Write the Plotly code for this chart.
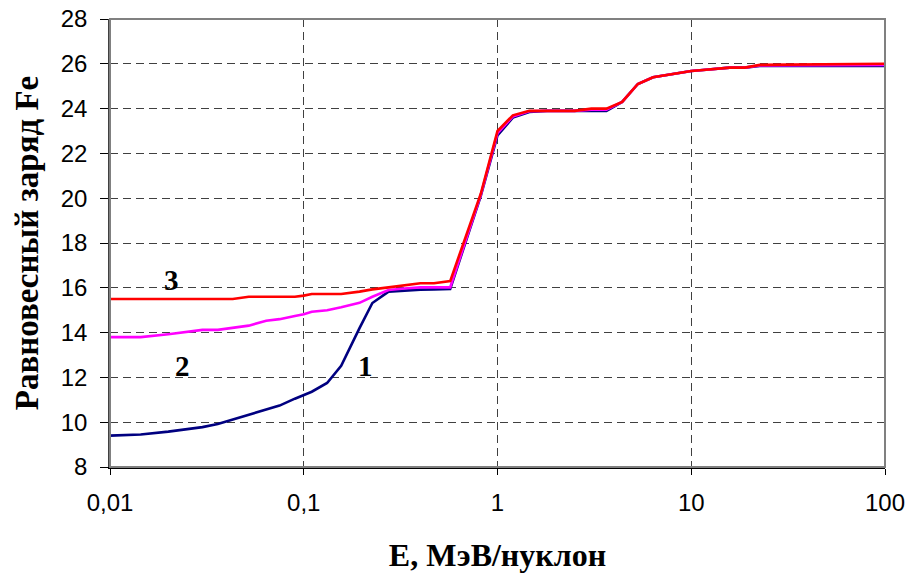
import math
import plotly.graph_objects as go

# Energy grid, MeV per nucleon
energy = [0.01, 0.0144, 0.02, 0.03, 0.036, 0.043, 0.052, 0.064, 0.075, 0.09,
          0.1, 0.11, 0.132, 0.156, 0.194, 0.226, 0.274, 0.33, 0.4, 0.47,
          0.57, 0.82, 1.0, 1.2, 1.46, 1.8, 2.5, 3.05, 3.65, 4.4,
          5.3, 6.35, 8.0, 10.0, 11.5, 15.8, 18.9, 22.6, 100.0]

# Equilibrium charge of Fe ions for three target cases
charge_1 = [9.4, 9.45, 9.58, 9.78, 9.92, 10.12, 10.35, 10.55, 10.74, 11.05,
            11.2, 11.36, 11.75, 12.52, 14.2, 15.32, 15.83, 15.88, 15.92, 15.93,
            15.95, 20.1, 22.8, 23.6, 23.85, 23.9, 23.9, 23.9, 23.9, 24.3,
            25.1, 25.4, 25.55, 25.68, 25.72, 25.83, 25.83, 25.9, 25.9]
charge_2 = [13.8, 13.8, 13.93, 14.12, 14.12, 14.2, 14.31, 14.53, 14.6, 14.74,
            14.82, 14.93, 15.0, 15.13, 15.33, 15.6, 15.9, 15.97, 16.02, 16.02,
            16.02, 20.15, 22.9, 23.65, 23.88, 23.9, 23.9, 23.95, 23.95, 24.3,
            25.1, 25.4, 25.55, 25.68, 25.72, 25.83, 25.83, 25.93, 25.95]
charge_3 = [15.5, 15.5, 15.5, 15.5, 15.5, 15.5, 15.6, 15.6, 15.6, 15.6,
            15.65, 15.72, 15.72, 15.72, 15.83, 15.93, 16.02, 16.1, 16.2, 16.2,
            16.3, 20.2, 23.0, 23.7, 23.9, 23.9, 23.9, 24.0, 24.0, 24.3,
            25.1, 25.4, 25.55, 25.68, 25.72, 25.83, 25.83, 25.95, 26.0]

curve_labels = ["1", "2", "3"]
label_energy = [0.208, 0.0236, 0.0207]
label_charge = [12.5, 12.5, 16.35]

x_ticks = [0.01, 0.1, 1, 10, 100]
x_tick_text = ["0,01", "0,1", "1", "10", "100"]
y_ticks = list(range(8, 29, 2))

fig = go.Figure()
for ys, color in [(charge_1, "#000080"), (charge_2, "#FF00FF"), (charge_3, "#FF0000")]:
    fig.add_trace(go.Scatter(x=energy, y=ys, mode="lines",
                             line=dict(color=color, width=2.6),
                             showlegend=False, hoverinfo="skip"))

# Curve numbers (log axis: annotation x is given as log10)
for text, lx, ly in zip(curve_labels, label_energy, label_charge):
    fig.add_annotation(x=math.log10(lx), y=ly, xref="x", yref="y",
                       text="<b>" + text + "</b>", showarrow=False,
                       font=dict(family="Liberation Serif", size=29, color="black"))

# Plot-area frame
fig.add_shape(type="rect", xref="paper", yref="paper", x0=0, y0=0, x1=1, y1=1,
              line=dict(color="#808080", width=2), layer="above")

grid_dash = "8px,5px"
fig.update_xaxes(type="log", range=[-2, 2], tickvals=x_ticks, ticktext=x_tick_text,
                 automargin=False,
                 showgrid=True, gridcolor="#404040", griddash=grid_dash, gridwidth=1,
                 showline=True, linecolor="black", linewidth=1.5,
                 ticks="outside", ticklen=6, tickcolor="black",
                 ticklabelstandoff=7,
                 tickfont=dict(family="Liberation Sans", size=24, color="black"),
                 title=dict(text="<b>E, МэВ/нуклон</b>", standoff=29,
                            font=dict(family="Liberation Serif", size=32, color="black")),
                 zeroline=False)
fig.update_yaxes(range=[8, 28], tickvals=y_ticks,
                 automargin=False,
                 showgrid=True, gridcolor="#404040", griddash=grid_dash, gridwidth=1,
                 showline=True, linecolor="#404040", linewidth=1.5,
                 ticks="outside", ticklen=8, tickcolor="black",
                 ticklabelstandoff=8,
                 tickfont=dict(family="Liberation Sans", size=24, color="black"),
                 title=dict(text="<b>Равновесный заряд Fe</b>", standoff=12,
                            font=dict(family="Liberation Serif", size=33, color="black")),
                 zeroline=False)

fig.update_layout(width=912, height=581,
                  margin=dict(l=110, r=27, t=19, b=114),
                  paper_bgcolor="white", plot_bgcolor="white")

fig.write_html("out.html")
